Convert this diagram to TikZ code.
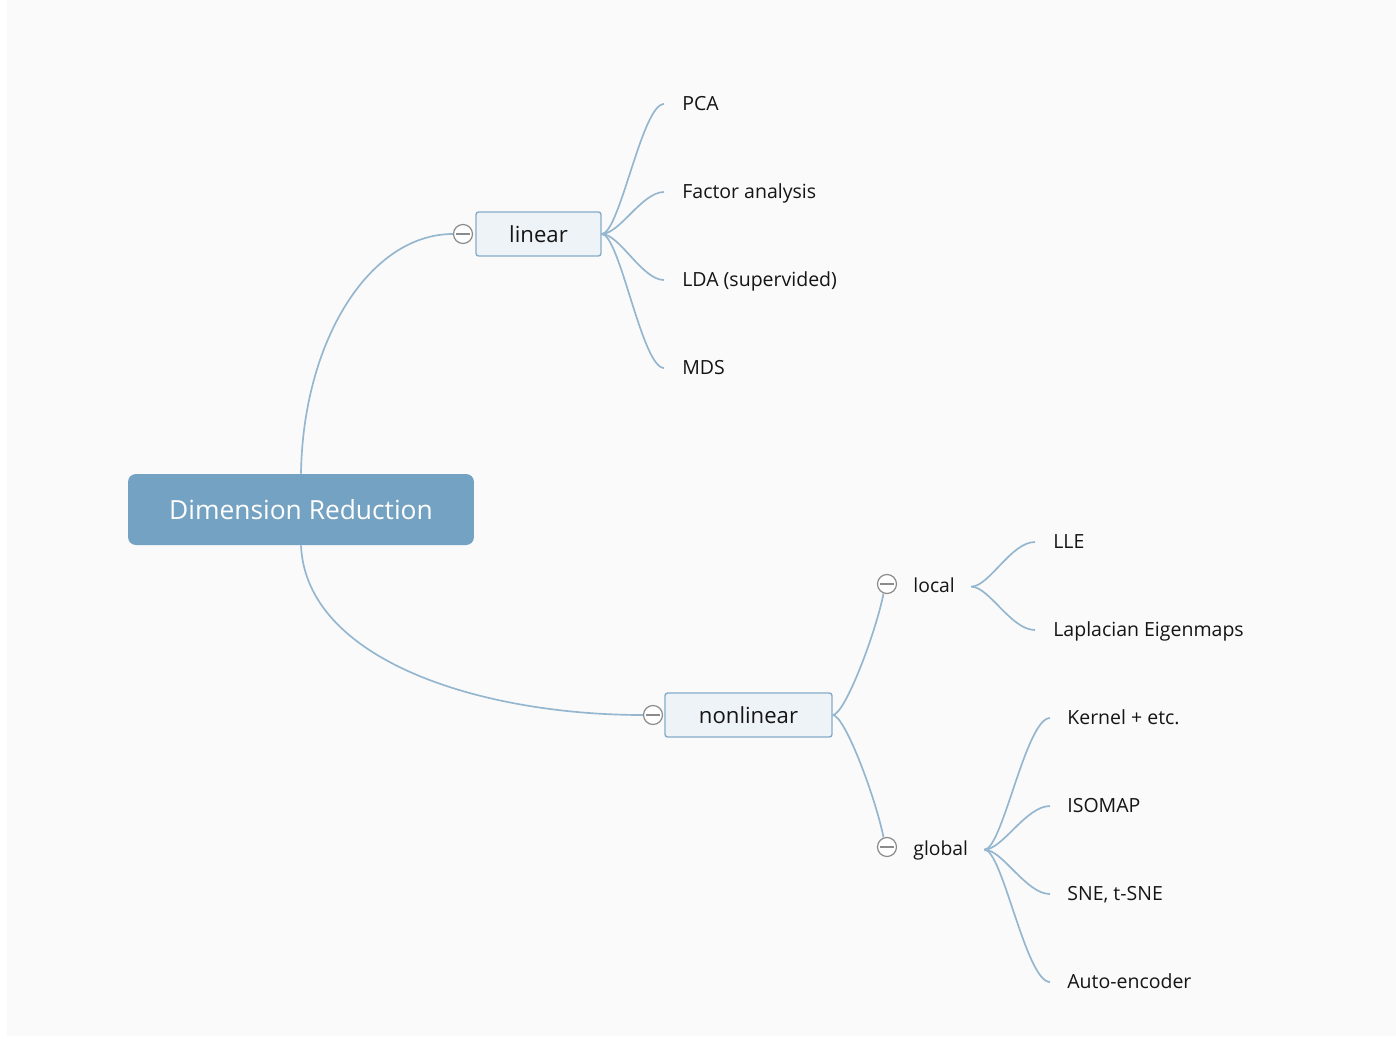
\documentclass[tikz,border=0pt]{standalone}
\usepackage{fontspec}
\setmainfont{Open Sans}
\usepackage{xcolor}
\usepackage{tikz}
\usetikzlibrary{positioning}
\definecolor{rootblue}{HTML}{74A2C2}
\definecolor{boxfill}{HTML}{EEF3F8}
\definecolor{boxline}{HTML}{86ABC8}
\definecolor{edgeblue}{HTML}{94B6CF}
\definecolor{foldgray}{HTML}{8C8C8C}
\definecolor{inkdark}{HTML}{151515}
\definecolor{paper}{HTML}{FAFAFA}
\tikzstyle{root} = [rectangle, rounded corners=4.5pt, fill=rootblue, text=white, minimum width=6.92cm, minimum height=1.42cm, font=\fontsize{15}{18}\selectfont]
\tikzstyle{topic} = [rectangle, rounded corners=1.5pt, draw=boxline, fill=boxfill, line width=0.8pt, minimum height=0.88cm, text=inkdark, font=\fontsize{12.6}{15}\selectfont]
\tikzstyle{fold} = [circle, draw=foldgray, fill=white, line width=0.7pt, minimum size=0.38cm, inner sep=0pt, path picture={\draw[foldgray, line width=0.7pt] ([xshift=1.6pt]path picture bounding box.west) -- ([xshift=-1.6pt]path picture bounding box.east);}]
\tikzstyle{mid} = [inner xsep=0.32cm, inner ysep=0pt, text height=1.33ex, text depth=0pt, text=inkdark, font=\fontsize{11}{13}\selectfont]
\tikzstyle{leaf} = [anchor=west, inner xsep=0.36cm, inner ysep=0pt, text height=1.33ex, text depth=0pt, text=inkdark, font=\fontsize{11.1}{13}\selectfont]
\tikzstyle{branch} = [draw=edgeblue, line width=0.95pt]

\begin{document}
\begin{tikzpicture}[x=0.02cm, y=-0.02cm]
		\useasboundingbox (0,0) rectangle (1396,1038);
		\fill[paper] (7,0) rectangle (1396,1036);
		% main topics
		\node (Dimension Reduction)[root] at (301,509.5) {Dimension Reduction};
		\node (linear)[topic, minimum width=2.5cm] at (538.5,234) {linear};
		\node (nonlinear)[topic, minimum width=3.34cm] at (748.5,715) {nonlinear};
		\node (linear fold)[fold] at (463,234) {};
		\node (nonlinear fold)[fold] at (653,715) {};
		\node (local fold)[fold] at (887,584) {};
		\node (global fold)[fold] at (887,847) {};
		\node (local)[mid, right=0pt of local fold, yshift=-1.5pt] {local};
		\node (global)[mid, right=0pt of global fold, yshift=-1.5pt] {global};
		% leaves
		\node (PCA)[leaf] at (664,104) {PCA};
		\node (Factor analysis)[leaf] at (664,192) {Factor analysis};
		\node (LDA)[leaf] at (664,280) {LDA (supervided)};
		\node (MDS)[leaf] at (664,368) {MDS};
		\node (LLE)[leaf] at (1035,542) {LLE};
		\node (Laplacian)[leaf] at (1035,630) {Laplacian Eigenmaps};
		\node (Kernel)[leaf, inner xsep=0.34cm] at (1050,718) {Kernel + etc.};
		\node (ISOMAP)[leaf, inner xsep=0.34cm] at (1050,806) {ISOMAP};
		\node (SNE)[leaf, inner xsep=0.34cm] at (1050,894) {SNE, t-SNE};
		\node (Auto-encoder)[leaf, inner xsep=0.34cm] at (1050,982) {Auto-encoder};
		% connectors
		\draw[branch] (Dimension Reduction.north) .. controls (303,340) and (370,234) .. (linear fold.west);
		\draw[branch] (Dimension Reduction.south) .. controls (306,660) and (480,715) .. (nonlinear fold.west);
		\draw[branch] (linear.east) .. controls +(18,0) and +(-22,0) .. (PCA.west);
		\draw[branch] (linear.east) .. controls +(18,0) and +(-22,0) .. (Factor analysis.west);
		\draw[branch] (linear.east) .. controls +(18,0) and +(-22,0) .. (LDA.west);
		\draw[branch] (linear.east) .. controls +(18,0) and +(-22,0) .. (MDS.west);
		\draw[branch] (nonlinear.east) .. controls +(12,0) and +(-8,40) .. (local fold.250);
		\draw[branch] (nonlinear.east) .. controls +(12,0) and +(-8,-40) .. (global fold.110);
		\draw[branch] (local.east) .. controls +(18,0) and +(-24,0) .. (LLE.west);
		\draw[branch] (local.east) .. controls +(18,0) and +(-24,0) .. (Laplacian.west);
		\draw[branch] (global.east) .. controls +(18,0) and +(-24,0) .. (Kernel.west);
		\draw[branch] (global.east) .. controls +(18,0) and +(-24,0) .. (ISOMAP.west);
		\draw[branch] (global.east) .. controls +(18,0) and +(-24,0) .. (SNE.west);
		\draw[branch] (global.east) .. controls +(18,0) and +(-24,0) .. (Auto-encoder.west);
\end{tikzpicture}
\end{document}
